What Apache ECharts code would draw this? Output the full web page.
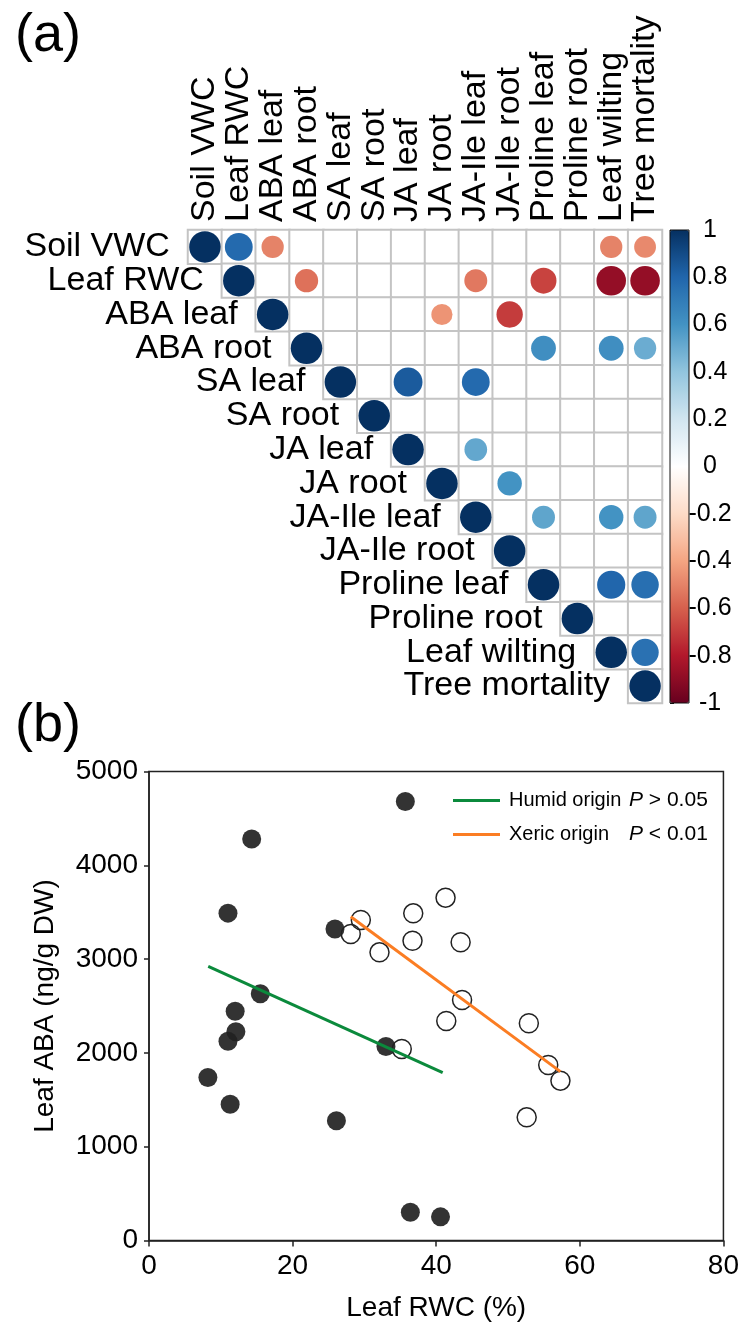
<!DOCTYPE html>
<html>
<head>
<meta charset="utf-8">
<title>Correlation matrix and Leaf ABA vs Leaf RWC</title>
<script src="https://cdn.jsdelivr.net/npm/echarts@6/dist/echarts.min.js"></script>
<style>
	html, body { margin: 0; padding: 0; background: #fff; }
	#main { width: 742px; height: 1328px; }
</style>
</head>
<body>
<div id="main"></div>
<script>
// variables of the correlation matrix (same order for rows and columns)
var vars = ['Soil VWC', 'Leaf RWC', 'ABA leaf', 'ABA root', 'SA leaf', 'SA root', 'JA leaf',
	'JA root', 'JA-Ile leaf', 'JA-Ile root', 'Proline leaf', 'Proline root', 'Leaf wilting', 'Tree mortality'];

// significant correlations: [row, column, r]
var corrs = [
	[0, 0, 1], [0, 1, 0.78], [0, 2, -0.5], [0, 12, -0.5], [0, 13, -0.48],
	[1, 1, 1], [1, 3, -0.55], [1, 8, -0.53], [1, 10, -0.68], [1, 12, -0.88], [1, 13, -0.88],
	[2, 2, 1], [2, 7, -0.45], [2, 9, -0.7],
	[3, 3, 1], [3, 10, 0.62], [3, 12, 0.62], [3, 13, 0.5],
	[4, 4, 1], [4, 6, 0.84], [4, 8, 0.78],
	[5, 5, 1],
	[6, 6, 1], [6, 8, 0.52],
	[7, 7, 1], [7, 9, 0.6],
	[8, 8, 1], [8, 10, 0.53], [8, 12, 0.6], [8, 13, 0.53],
	[9, 9, 1],
	[10, 10, 1], [10, 12, 0.8], [10, 13, 0.76],
	[11, 11, 1],
	[12, 12, 1], [12, 13, 0.75],
	[13, 13, 1]
];

// colour bar ticks
var barMin = -1;
var barMax = 1;
var barStep = 0.2;
var rdbu = ['#67001F', '#B2182B', '#D6604D', '#F4A582', '#FDDBC7', '#FFFFFF',
	'#D1E5F0', '#92C5DE', '#4393C3', '#2166AC', '#053061'];

// panel (b): Leaf RWC (%) vs Leaf ABA (ng/g DW)
var humidX = [35.7, 14.3, 11.0, 25.9, 15.5, 12.0, 12.1, 11.0, 33.0, 8.2, 11.3, 26.1, 36.4, 40.6];
var humidY = [4680, 4280, 3490, 3320, 2630, 2445, 2225, 2125, 2068, 1738, 1452, 1277, 301, 252];
var xericX = [41.3, 36.8, 29.5, 28.1, 36.7, 43.4, 32.1, 43.6, 41.4, 52.9, 35.2, 55.6, 57.3, 52.6];
var xericY = [3655, 3488, 3417, 3268, 3196, 3179, 3072, 2564, 2340, 2316, 2042, 1871, 1704, 1313];
var humidFitX = [8.25, 40.9];
var humidFitY = [2922, 1789];
var xericFitX = [28.1, 57.3];
var xericFitY = [3452, 1800];
var legendNames = ['Humid origin', 'Xeric origin'];
var legendP = ['> 0.05', '< 0.01'];

var FONT = "'Liberation Sans', Arial, Helvetica, sans-serif";

function pairs(xs, ys) {
	var out = [];
	for (var i = 0; i < xs.length; i++) out.push([xs[i], ys[i]]);
	return out;
}

drawChart();
function drawChart() {
	var myChart = echarts.init(document.getElementById('main'), null, { renderer: 'canvas' });

	// upper triangle cells incl. diagonal
	var cells = [];
	for (var i = 0; i < vars.length; i++) {
		for (var j = i; j < vars.length; j++) cells.push([j, i, 0]);
	}
	var circles = corrs.map(function (c) { return [c[1], c[0], c[2]]; });
	var diag = vars.map(function (v, i) { return [i, i]; });

	var option = {
		animation: false,
		textStyle: { fontFamily: FONT, color: '#000' },
		title: [
			{ text: '(a)', left: 10, top: 4, textStyle: { fontSize: 54, fontWeight: 'normal', color: '#000', fontFamily: FONT } },
			{ text: '(b)', left: 10, top: 694, textStyle: { fontSize: 54, fontWeight: 'normal', color: '#000', fontFamily: FONT } }
		],
		legend: {
			data: legendNames.map(function (n) { return { name: n, icon: 'rect' }; }),
			orient: 'vertical',
			left: 448,
			top: 785,
			itemWidth: 47,
			itemHeight: 3,
			itemGap: 13,
			selectedMode: false,
			formatter: function (name) {
				return '{n|' + name + '}{p|P}{v| ' + legendP[legendNames.indexOf(name)] + '}';
			},
			textStyle: {
				fontFamily: FONT,
				rich: {
					n: { fontSize: 20, width: 120, padding: [0, 0, 0, 4], lineHeight: 22, fontFamily: FONT, color: '#000' },
					p: { fontSize: 21, fontStyle: 'italic', lineHeight: 22, fontFamily: FONT, color: '#000' },
					v: { fontSize: 21, lineHeight: 22, fontFamily: FONT, color: '#000' }
				}
			}
		},
		visualMap: {
			type: 'continuous',
			min: barMin,
			max: barMax,
			dimension: 2,
			seriesIndex: 1,
			calculable: false,
			hoverLink: false,
			left: 670,
			top: 230,
			itemWidth: 19,
			itemHeight: 473,
			padding: 0,
			inRange: { color: rdbu }
		},
		grid: [
			{ left: 188, top: 230, width: 474, height: 473 },
			{ left: 670, top: 230, width: 19, height: 473, show: true, z: 10,
				backgroundColor: 'transparent', borderColor: '#111', borderWidth: 1 },
			{ left: 149, top: 771.5, width: 575, height: 469, show: true,
				backgroundColor: 'transparent', borderColor: '#222', borderWidth: 1.5 }
		],
		xAxis: [
			{
				gridIndex: 0, type: 'category', data: vars, position: 'top',
				axisLine: { show: false }, axisTick: { show: false }, splitLine: { show: false },
				axisLabel: { rotate: -90, margin: 8, interval: 0, fontSize: 34, color: '#000', fontFamily: FONT }
			},
			{ gridIndex: 1, type: 'value', show: false, min: 0, max: 1 },
			{
				gridIndex: 2, type: 'value', min: 0, max: 80, interval: 20,
				name: 'Leaf RWC (%)', nameLocation: 'middle', nameGap: 54,
				nameTextStyle: { fontSize: 28, color: '#000', fontFamily: FONT },
				axisLine: { lineStyle: { color: '#222', width: 1.5 } },
				axisTick: { length: 6, lineStyle: { color: '#222', width: 1.5 } },
				axisLabel: { fontSize: 28, margin: 12, color: '#000', fontFamily: FONT },
				splitLine: { show: false }
			}
		],
		yAxis: [
			{
				gridIndex: 0, type: 'category', data: vars, inverse: true,
				axisLine: { show: false }, axisTick: { show: false }, axisLabel: { show: false }, splitLine: { show: false }
			},
			{
				gridIndex: 1, type: 'value', min: barMin, max: barMax, interval: barStep, position: 'right',
				axisLine: { show: false },
				axisTick: { show: true, length: 4, lineStyle: { color: '#111', width: 1 } },
				axisLabel: { fontSize: 25, margin: 21, align: 'center', color: '#000', fontFamily: FONT },
				splitLine: { show: false }
			},
			{
				gridIndex: 2, type: 'value', min: 0, max: 5000, interval: 1000,
				name: 'Leaf ABA (ng/g DW)', nameLocation: 'middle', nameGap: 90,
				nameTextStyle: { fontSize: 28, color: '#000', fontFamily: FONT },
				axisLine: { lineStyle: { color: '#222', width: 1.5 } },
				axisTick: { length: 5, lineStyle: { color: '#222', width: 1.5 } },
				axisLabel: { fontSize: 28, margin: 11, color: '#000', fontFamily: FONT,
					formatter: function (v) { return String(v); } },
				splitLine: { show: false }
			}
		],
		series: [
			{
				type: 'heatmap', xAxisIndex: 0, yAxisIndex: 0, data: cells, silent: true,
				itemStyle: { color: '#fff', borderColor: '#c4c4c4', borderWidth: 2 },
				emphasis: { disabled: true }
			},
			{
				type: 'scatter', xAxisIndex: 0, yAxisIndex: 0, data: circles, silent: true, z: 3,
				itemStyle: { opacity: 1 },
				symbolSize: function (val) { return 31.5 * Math.sqrt(Math.abs(val[2])); }
			},
			{
				// row names sit left of each diagonal cell
				type: 'scatter', xAxisIndex: 0, yAxisIndex: 0, data: diag, silent: true, z: 4,
				symbolSize: 0, itemStyle: { color: 'transparent', opacity: 1 },
				label: {
					show: true, position: 'left', distance: 35, fontSize: 34, color: '#000', opacity: 1, fontFamily: FONT,
					formatter: function (p) { return vars[p.dataIndex]; }
				}
			},
			{
				name: 'Humid points', type: 'scatter', xAxisIndex: 2, yAxisIndex: 2,
				data: pairs(humidX, humidY), symbolSize: 19, silent: true,
				itemStyle: { color: '#222', opacity: 0.92 }
			},
			{
				name: 'Xeric points', type: 'scatter', xAxisIndex: 2, yAxisIndex: 2,
				data: pairs(xericX, xericY), symbolSize: 19, silent: true,
				itemStyle: { color: 'rgba(255,255,255,0)', borderColor: '#222', borderWidth: 1.5, opacity: 1 }
			},
			{
				name: 'Humid origin', type: 'line', xAxisIndex: 2, yAxisIndex: 2,
				data: pairs(humidFitX, humidFitY), symbol: 'none', silent: true,
				itemStyle: { color: '#0b8a3c' }, lineStyle: { color: '#0b8a3c', width: 3 }
			},
			{
				name: 'Xeric origin', type: 'line', xAxisIndex: 2, yAxisIndex: 2,
				data: pairs(xericFitX, xericFitY), symbol: 'none', silent: true,
				itemStyle: { color: '#fb7d23' }, lineStyle: { color: '#fb7d23', width: 3 }
			}
		]
	};
	myChart.setOption(option);
}
</script>
</body>
</html>
